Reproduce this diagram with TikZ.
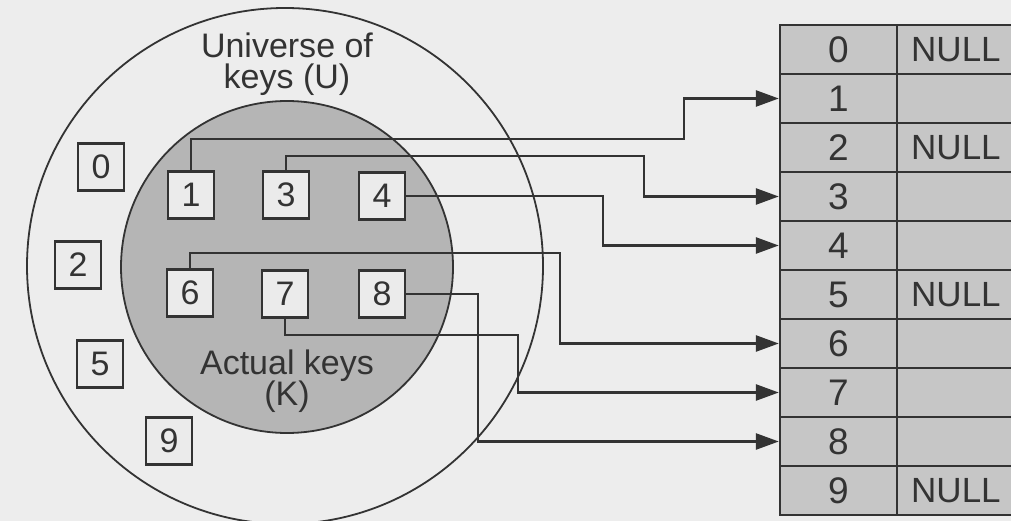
\documentclass[tikz,border=0pt]{standalone}
\usepackage{fontspec}
\setmainfont{Liberation Sans}
\usetikzlibrary{arrows.meta}
\definecolor{paper}{HTML}{EDEDED}
\definecolor{ink}{HTML}{333333}
\definecolor{keyset}{HTML}{B5B5B5}
\definecolor{keybox}{HTML}{EBEBEB}
\definecolor{slot}{HTML}{C6C6C6}
\tikzset{
  ring/.style={draw=ink, line width=1.8pt},
  keynode/.style={draw=ink, line width=2.4pt, fill=keybox, minimum width=46pt,
    minimum height=47pt, inner sep=0pt, text=ink, font=\fontsize{34}{34}\selectfont},
  label/.style={text=ink, align=center, font=\fontsize{34}{36}\selectfont},
  idxcell/.style={draw=ink, line width=2.4pt, fill=slot, minimum width=117pt,
    minimum height=49pt, inner sep=0pt, text=ink, font=\fontsize{37}{37}\selectfont},
  valcell/.style={draw=ink, line width=2.4pt, fill=slot, minimum width=150pt,
    minimum height=49pt, inner sep=0pt},
  nullword/.style={text=ink, anchor=west, inner sep=0pt, font=\fontsize{35}{35}\selectfont},
  conn/.style={draw=ink, line width=2.6pt, -{Triangle[length=23pt,width=16pt]}}
}
\begin{document}
\begin{tikzpicture}[x=1pt,y=-1pt]
  \useasboundingbox (0,0) rectangle (1011,521);
  \clip (0,0) rectangle (1011,521);
  \fill[paper] (0,0) rectangle (1011,521);

  % universe U and the actual key set K
  \draw[ring] (285,266) circle[radius=258];
  \fill[keyset] (287,267) circle[radius=166];
  \draw[ring] (287,267) circle[radius=166];

  \node[label] (ulab) at (287,64) {Universe of\\[-5pt]keys (U)};
  \node[label] (klab) at (287,381) {Actual keys\\[-5pt](K)};

  % keys not in use
  \node[keynode] (k0) at (101,167) {0};
  \node[keynode] (k2) at (78,265) {2};
  \node[keynode] (k5) at (100,364) {5};
  \node[keynode] (k9) at (169,441) {9};

  % keys in use
  \node[keynode] (k1) at (191,195) {1};
  \node[keynode] (k3) at (286,195) {3};
  \node[keynode] (k4) at (382,196) {4};
  \node[keynode] (k6) at (190,293) {6};
  \node[keynode] (k7) at (285,294) {7};
  \node[keynode] (k8) at (382,294) {8};

  % direct address table
  \foreach \i in {0,...,9} {
    \node[idxcell] (idx\i) at (838.5,49.5+49*\i) {\i};
    \node[valcell] (val\i) at (972,49.5+49*\i) {};
  }
  \foreach \i in {0,2,5,9} {
    \node[nullword] (null\i) at (911,49.5+49*\i) {NULL};
  }

  % bend points of the links
  \coordinate (j1) at (684,139);
  \coordinate (j3) at (644,156);
  \coordinate (j4) at (603,220);
  \coordinate (j6) at (560,253);
  \coordinate (j7) at (518,335);
  \coordinate (j8) at (478,370);

  \draw[conn] (k1.north) |- (j1) |- (idx1.west);
  \draw[conn] (k3.north) |- (j3) |- (idx3.west);
  \draw[conn] (k4.east) -| (j4) |- (idx4.west);
  \draw[conn] (k6.north) |- (j6) |- (idx6.west);
  \draw[conn] (k7.south) |- (j7) |- (idx7.west);
  \draw[conn] (k8.east) -| (j8) |- (idx8.west);
\end{tikzpicture}
\end{document}
